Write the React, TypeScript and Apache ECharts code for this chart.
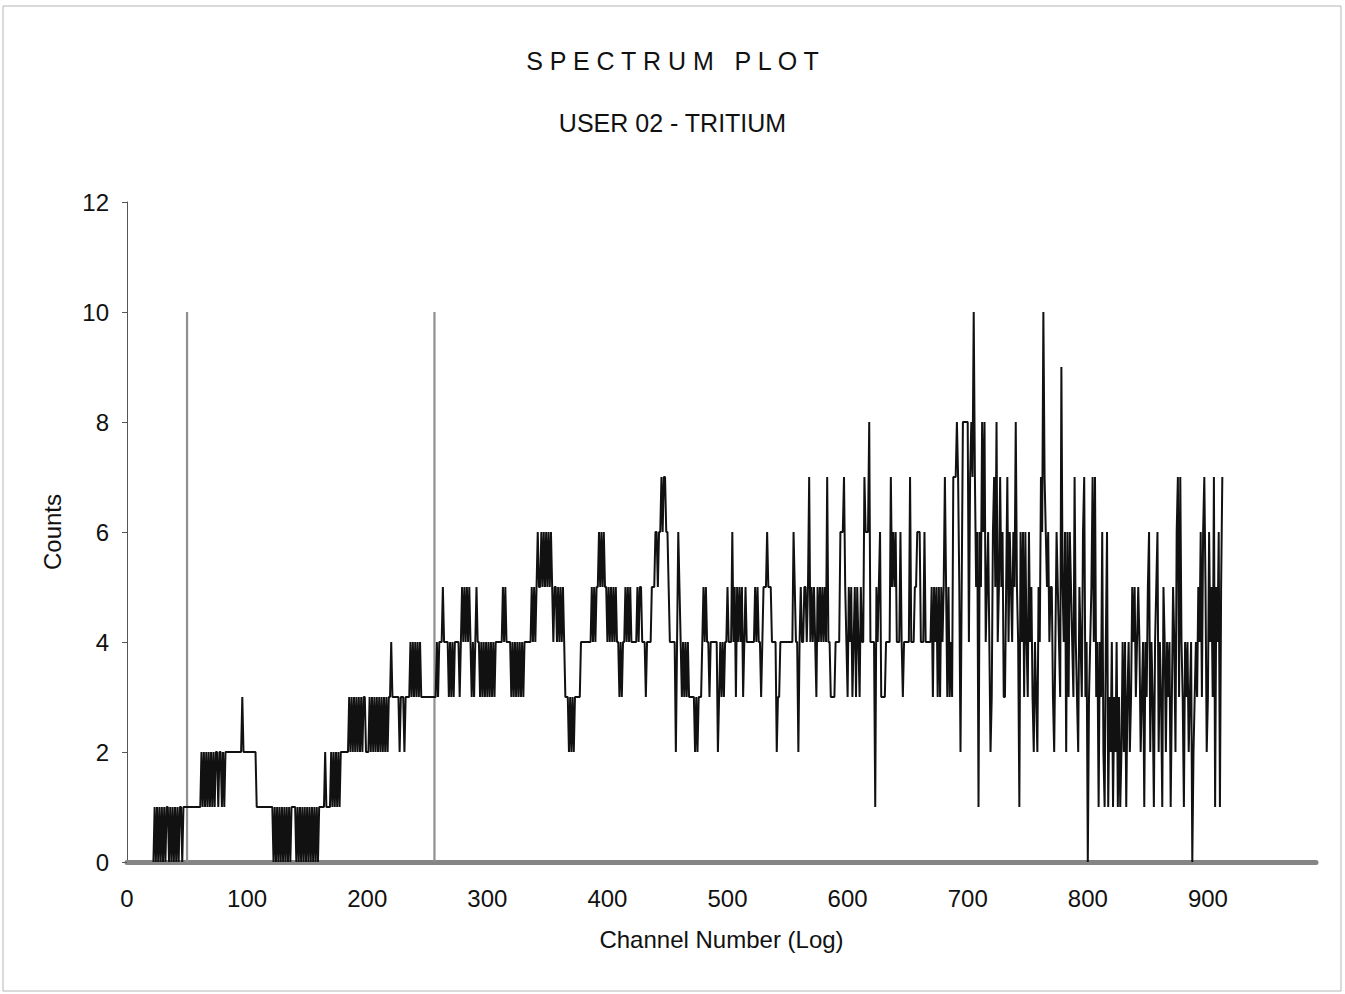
import React, { useEffect, useRef } from "react";
import * as echarts from "echarts";

// ---- Data (counts per channel, one character per channel, 'A' = 10) ----
const startChannel = 22;
const countsA =
  "01010101 0101101010 1010110111 1111111111 1121212121 2121221221 2122222222 2222223222 2222222211 1111111111 1101010101 0101010111 1010101010 1010101010 1111121111 2121212122 2222232323 2323232332";
const countsB =
  "2232323232 3232323233 4333333233 3233334343 4343433333 3333333343 4445444434 3434444345 4545454343 4544343434 3434343444 4445454444 3434343434 3444444545 4565565656 5656545545 4545433323 2323333344 4444444545 4556565655";
const countsC =
  "4545454544 3434454545 4444454554 4434444555 6656676776 6544444246 5434343433 3332323334 5454434444 4423434344 5444645354 5453454444 4445454434 5556555444 4233444444 4444465442 4544554574 5454354545 4547443333 4444666754";
const countsD =
  "3545345354 3544766684 4441545633 3344447565 6444643444 4474445566 6444644444 5354535354 5753534377 7875258888 84787A7561 6586845642 3675845756 3357465465 8541646364 3645324325 476A765645 5324654395 4626365437 4325436734";
const countsE =
  "0345747341 4362146132 4132413124 2413423545 3454234143 5624314562 4315424341 3542673743 1434234023 4354636752 3645371546 157";

const markerChannels = [50, 256];
const markerHeight = 10;

const xTickInterval = 100;
const xMax = 990;
const yTickInterval = 2;
const yMax = 12;

const titleText = "S P E C T R U M   P L O T";
const subtitleText = "USER 02 - TRITIUM";
const xAxisName = "Channel Number (Log)";
const yAxisName = "Counts";

function parseCounts(s: string): number[] {
  return s
    .replace(/\s/g, "")
    .split("")
    .map((c) => (c === "A" ? 10 : Number(c)));
}

const FONT = "'Liberation Sans', Arial, Helvetica, sans-serif";

export default function App() {
  const ref = useRef<HTMLDivElement>(null);

  useEffect(() => {
    if (!ref.current) return;
    const chart = echarts.init(ref.current, undefined, { renderer: "svg" });

    const counts = [
      ...parseCounts(countsA),
      ...parseCounts(countsB),
      ...parseCounts(countsC),
      ...parseCounts(countsD),
      ...parseCounts(countsE),
    ];
    const spectrum = counts.map((v, i) => [startChannel + i, v]);

    const markerSeries = markerChannels.map((ch) => ({
      type: "line",
      data: [
        [ch, 0],
        [ch, markerHeight],
      ],
      symbol: "none",
      lineStyle: { color: "#8f8f8f", width: 2.2 },
      z: 1,
      silent: true,
    }));

    chart.setOption({
      animation: false,
      backgroundColor: "#ffffff",
      title: {
        text: titleText,
        subtext: subtitleText,
        left: "center",
        top: 43,
        itemGap: 37,
        textStyle: {
          fontFamily: FONT,
          fontSize: 25,
          fontWeight: "normal",
          color: "#111",
        },
        subtextStyle: {
          fontFamily: FONT,
          fontSize: 25,
          color: "#111",
        },
      },
      graphic: [
        {
          type: "rect",
          shape: { x: 3, y: 6, width: 1338, height: 985 },
          style: { fill: "none", stroke: "#b5b5b5", lineWidth: 1 },
          silent: true,
        },
      ],
      grid: {
        left: 127,
        right: 29,
        top: 202,
        bottom: 132,
        containLabel: false,
      },
      xAxis: {
        type: "value",
        min: 0,
        max: xMax,
        interval: xTickInterval,
        name: xAxisName,
        nameLocation: "middle",
        nameGap: 65,
        nameTextStyle: { fontFamily: FONT, fontSize: 24, color: "#111" },
        axisLine: { show: true, lineStyle: { color: "#858585", width: 5 } },
        axisTick: { show: false },
        splitLine: { show: false },
        axisLabel: {
          fontFamily: FONT,
          fontSize: 24,
          color: "#111",
          margin: 24,
          showMaxLabel: false,
        },
      },
      yAxis: {
        type: "value",
        min: 0,
        max: yMax,
        interval: yTickInterval,
        name: yAxisName,
        nameLocation: "middle",
        nameGap: 63,
        nameRotate: 90,
        nameTextStyle: { fontFamily: FONT, fontSize: 24, color: "#111" },
        axisLine: { show: true, lineStyle: { color: "#555", width: 1 } },
        axisTick: { show: true, length: 5, lineStyle: { color: "#555" } },
        splitLine: { show: false },
        axisLabel: {
          fontFamily: FONT,
          fontSize: 24,
          color: "#111",
          margin: 18,
        },
      },
      series: [
        ...markerSeries,
        {
          type: "line",
          data: spectrum,
          symbol: "none",
          showSymbol: false,
          lineStyle: { color: "#111111", width: 2 },
          z: 3,
          silent: true,
        },
      ],
    });

    return () => chart.dispose();
  }, []);

  return (
    <div
      ref={ref}
      style={{
        position: "fixed",
        left: 0,
        top: 0,
        width: 1345,
        height: 994,
        background: "#fff",
      }}
    />
  );
}
